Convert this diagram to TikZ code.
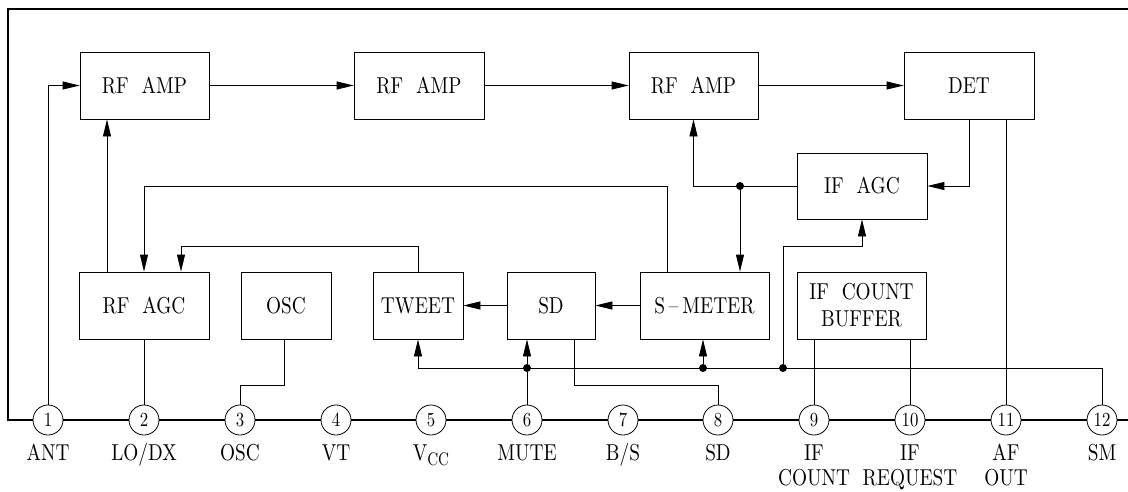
\documentclass[tikz,border=0pt]{standalone}
\usepackage{fontspec}
\setmainfont{lmroman10-regular.otf}[FakeStretch=0.84]
\usetikzlibrary{arrows.meta}
\begin{document}
\begin{tikzpicture}[x=1pt,y=-1pt,
 blk/.style={draw, line width=0.8pt, inner sep=0pt, minimum height=67pt, align=center, font=\fontsize{23}{26}\selectfont},
 ln/.style={line width=0.8pt},
 arr/.style={ln, -{Triangle[length=17pt,width=8pt]}},
 pin/.style={circle, draw, fill=white, line width=0.8pt, minimum size=30pt, inner sep=0pt, font=\fontsize{20}{20}\selectfont},
 lbl/.style={font=\fontsize{23}{25}\selectfont, anchor=base, inner sep=0pt},
 jdot/.style={circle, fill, inner sep=0pt, minimum size=8pt}
]
\useasboundingbox (0,0) rectangle (1128,491);
% frame
\draw[line width=2.6pt] (1128,420) -- (8,420) -- (8,9) -- (1128,9);
% blocks
\node[blk, minimum width=129pt] (amp1) at (144.5,85.5) {RF\ \ AMP};
\node[blk, minimum width=130pt] (amp2) at (419,85.5) {RF\ \ AMP};
\node[blk, minimum width=129pt] (amp3) at (693.5,85.5) {RF\ \ AMP};
\node[blk, minimum width=130pt] (det) at (969,85.5) {DET};
\node[blk, minimum width=130pt, minimum height=66pt] (ifagc) at (862,186) {IF\ \ AGC};
\node[blk, minimum width=130pt] (rfagc) at (144,305.5) {RF\ \ AGC};
\node[blk, minimum width=90pt] (osc) at (286,305.5) {OSC};
\node[blk, minimum width=90pt] (tweet) at (418,305.5) {TWEET};
\node[blk, minimum width=88pt] (sd) at (551,305.5) {SD};
\node[blk, minimum width=129pt] (smeter) at (704.5,305.5) {S\,--\,METER};
\node[blk, minimum width=129pt, font=\fontsize{23}{27}\selectfont] (ifcb) at (861.5,305.5) {IF\ \ COUNT\\BUFFER};
% pins
\foreach \i/\x in {1/48,2/144,3/240,4/336,5/431,6/527,7/623,8/718,9/814,10/910,11/1006,12/1102}
  \node[pin] (p\i) at (\x,420) {\i};
% pin labels
\node[lbl] (l1) at (48,460) {ANT};
\node[lbl] (l2) at (144,460) {LO/DX};
\node[lbl] (l3) at (240,460) {OSC};
\node[lbl] (l4) at (336,460) {VT};
\node[lbl] (l5) at (431,460) {V\raisebox{-5pt}{\fontsize{18}{18}\selectfont CC}};
\node[lbl] (l6) at (527,460) {MUTE};
\node[lbl] (l7) at (623,460) {B/S};
\node[lbl] (l8) at (718,460) {SD};
\node[lbl] (l9) at (814,460) {IF};
\node[lbl] (l9b) at (814,485) {COUNT};
\node[lbl] (l10) at (910,460) {IF};
\node[lbl] (l10b) at (910,485) {REQUEST};
\node[lbl] (l11) at (1006,460) {AF};
\node[lbl] (l11b) at (1006,485) {OUT};
\node[lbl] (l12) at (1102,460) {SM};
% junction dots
\node[jdot] (d1) at (740,186) {};
\node[jdot] (d2) at (527,368) {};
\node[jdot] (d3) at (703,368) {};
\node[jdot] (d4) at (783,368) {};
% helper coordinates
\coordinate (c107) at (107,0);
\coordinate (a1) at (667,186);
\coordinate (a2) at (144,186);
\coordinate (b1) at (418,246);
\coordinate (b2) at (181,246);
\coordinate (e1) at (783,246);
\coordinate (f1) at (574,385);
\coordinate (g1) at (284,385);
% signal chain
\draw[arr] (p1.north) |- (amp1.west);
\draw[arr] (amp1.east) -- (amp2.west);
\draw[arr] (amp2.east) -- (amp3.west);
\draw[arr] (amp3.east) -- (det.west);
\draw[arr] (rfagc.north -| c107) -- (amp1.south -| c107);
\draw[arr] (smeter.north -| a1) -- (a1) -- (a2) -- (rfagc.north -| a2);
\draw[arr] (tweet.north) -- (b1) -- (b2) -- (rfagc.north -| b2);
\draw[arr] (det.south) |- (ifagc.east);
\draw[arr] (ifagc.west) -| (amp3.south);
\draw[arr] (d1) -- (smeter.north -| d1);
\draw[ln] (det.south -| p11) -- (p11.north);
\draw[arr] (sd.west) -- (tweet.east);
\draw[arr] (smeter.west) -- (sd.east);
% bus
\draw[arr] (p12.north) -- (p12 |- d4) -- (tweet.south |- d4) -- (tweet.south);
\draw[arr] (d2) -- (sd.south -| d2);
\draw[arr] (d3) -- (smeter.south -| d3);
\draw[ln] (p6.north) -- (d2);
\draw[arr] (d4) -- (e1) -| (ifagc.south);
% pin connections
\draw[ln] (sd.south -| f1) -- (f1) -| (p8.north);
\draw[ln] (osc.south -| g1) -- (g1) -| (p3.north);
\draw[ln] (rfagc.south) -- (p2.north);
\draw[ln] (ifcb.south -| p9) -- (p9.north);
\draw[ln] (ifcb.south -| p10) -- (p10.north);
\end{tikzpicture}
\end{document}
